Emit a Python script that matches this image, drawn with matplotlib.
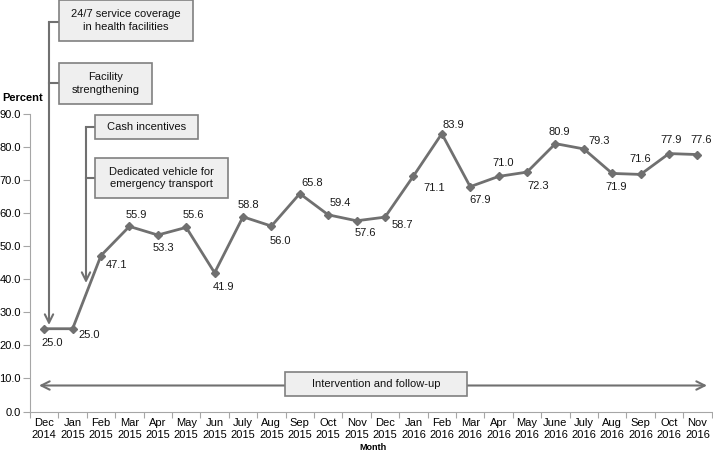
import matplotlib.pyplot as plt
from matplotlib.patches import Rectangle
import numpy as np

plt.rcParams['font.family'] = ['Liberation Sans', 'DejaVu Sans']

months = ['Dec\n2014', 'Jan\n2015', 'Feb\n2015', 'Mar\n2015', 'Apr\n2015', 'May\n2015',
          'Jun\n2015', 'July\n2015', 'Aug\n2015', 'Sep\n2015', 'Oct\n2015', 'Nov\n2015',
          'Dec\n2015', 'Jan\n2016', 'Feb\n2016', 'Mar\n2016', 'Apr\n2016', 'May\n2016',
          'June\n2016', 'July\n2016', 'Aug\n2016', 'Sep\n2016', 'Oct\n2016', 'Nov\n2016']
percent = [25.0, 25.0, 47.1, 55.9, 53.3, 55.6, 41.9, 58.8, 56.0, 65.8, 59.4, 57.6,
           58.7, 71.1, 83.9, 67.9, 71.0, 72.3, 80.9, 79.3, 71.9, 71.6, 77.9, 77.6]
# label offsets in pixels (dx, dy), dy positive = down
label_off = [(8, 14), (17, 6), (15, 9), (7, -11), (6, 13), (7, -12), (9, 14), (5, -12),
             (9, 15), (12, -11), (12, -12), (9, 12), (17, 8), (21, 12), (12, -9), (10, 13),
             (5, -13), (11, 14), (4, -12), (15, -8), (4, 14), (0, -15), (2, -14), (4, -15)]

W, H = 713, 455
fig = plt.figure(figsize=(W / 100, H / 100), dpi=100)
ax = fig.add_axes([30 / W, 1 - 411.5 / H, (711.6 - 30) / W, (411.5 - 113.5) / H])

grey = '#707070'
axis_grey = '#a6a6a6'
x = np.arange(len(percent)) + 0.5
ax.plot(x, percent, color=grey, lw=2, marker='D', ms=4.5, zorder=3)

for xi, v, (dx, dy) in zip(x, percent, label_off):
    ax.annotate(f'{v:.1f}', (xi, v), xytext=(dx * 0.72, -dy * 0.72), textcoords='offset points',
                ha='center', va='center', fontsize=8, color='#1a1a1a')

ax.set_xlim(0, len(percent))
ax.set_ylim(0, 90)
ax.set_yticks(np.arange(0, 91, 10))
ax.set_yticklabels([f'{t:.1f}' for t in np.arange(0, 91, 10)])
ax.set_xticks(np.arange(0, len(percent) + 1))
ax.set_xticklabels([])
ax.set_xticks(x, minor=True)
ax.set_xticklabels(months, minor=True)
ax.tick_params(axis='x', which='minor', length=0, pad=5, labelsize=8)
ax.tick_params(axis='x', which='major', length=4, color=axis_grey)
ax.tick_params(axis='y', length=5, color=axis_grey, labelsize=8, pad=1.5)
for s in ['top', 'right']:
    ax.spines[s].set_visible(False)
for s in ['left', 'bottom']:
    ax.spines[s].set_color(axis_grey)
    ax.spines[s].set_linewidth(0.8)

fig.text(2 / W, 1 - 98 / H, 'Percent', fontsize=8, fontweight='bold', va='center')
fig.text(373 / W, 1 - 448 / H, 'Month', fontsize=6.5, fontweight='bold', ha='center', va='center')


def box(x0, y0, x1, y1, text):
    fig.patches.append(Rectangle((x0 / W, 1 - y1 / H), (x1 - x0) / W, (y1 - y0) / H,
                                 transform=fig.transFigure, facecolor='#efefef',
                                 edgecolor='#808080', lw=1.2, zorder=5))
    fig.text((x0 + x1) / 2 / W, 1 - (y0 + y1) / 2 / H, text, ha='center', va='center',
             fontsize=8, color='#111111', linespacing=1.35, zorder=6)


def line(xs, ys):
    fig.add_artist(plt.Line2D([v / W for v in xs], [1 - v / H for v in ys],
                              color=grey, lw=1.5, transform=fig.transFigure))


def arrow(x0, y0, x1, y1):
    ax.annotate('', xy=(x1, H - y1), xytext=(x0, H - y0), xycoords='figure pixels',
                textcoords='figure pixels', annotation_clip=False,
                arrowprops=dict(arrowstyle='->', color=grey, lw=1.5,
                                mutation_scale=15, shrinkA=0, shrinkB=0))


# first bracket
line([49, 59], [22, 22])
line([49, 59], [83, 83])
arrow(49, 22, 49, 325)
box(59, 0.5, 193, 41, '24/7 service coverage\nin health facilities')
box(59, 63, 152, 104, 'Facility\nstrengthening')

# second bracket
line([86, 95], [127, 127])
line([86, 95], [178, 178])
arrow(86, 127, 86, 283)
box(95, 115, 198, 139, 'Cash incentives')
box(95, 158, 228, 198, 'Dedicated vehicle for\nemergency transport')

# intervention arrow
arrow(300, 385.5, 39, 385.5)
arrow(450, 385.5, 707, 385.5)
box(285, 372, 467, 396, 'Intervention and follow-up')

fig.savefig('out.png', dpi=100)
